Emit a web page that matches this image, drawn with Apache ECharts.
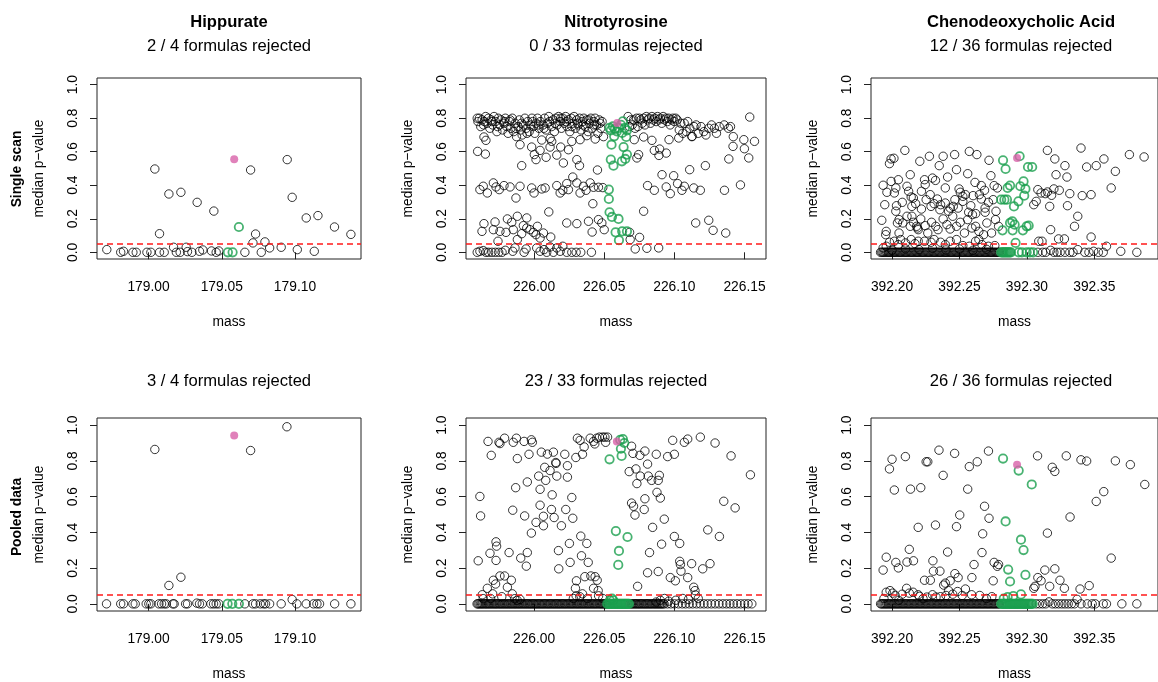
<!DOCTYPE html>
<html lang="en">
<head>
<meta charset="UTF-8">
<title>median p-value by mass</title>
<script src="https://cdn.jsdelivr.net/npm/echarts@6/dist/echarts.min.js"></script>
<style>
  * { margin: 0; padding: 0 }
  html, body { height: 100%; background: #fff; }
</style>
</head>
<body>
<div id="main" style="width:1158px;height:682px"></div>
<script>
// ---- data: [mass, median p-value] ----
const hipScanBlack = [[178.9715,0.016],[178.9810,0],[178.9829,0.006],[178.9893,0],[178.9916,0],[178.9989,0],[179.0016,0],[179.0043,0.497],[179.0075,0.111],[179.0075,0],[179.0107,0],[179.0139,0.348],[179.0171,0.03],[179.0190,0],[179.0221,0.358],[179.0216,0],[179.0257,0.03],[179.0266,0.004],[179.0296,0],[179.0332,0.298],[179.0348,0.006],[179.0371,0.014],[179.0430,0.008],[179.0446,0.246],[179.0462,0],[179.0480,0.008],[179.0658,0],[179.0697,0.491],[179.0713,0.056],[179.0731,0.109],[179.0770,0],[179.0795,0.062],[179.0827,0.026],[179.0906,0.030],[179.0947,0.553],[179.0981,0.328],[179.1016,0.016],[179.1077,0.205],[179.1132,0.006],[179.1157,0.219],[179.1270,0.151],[179.1382,0.107]];
const hipScanGreen = [[179.0542,0],[179.0574,0],[179.0617,0.151]];
const hipScanPink = [[179.0585,0.555]];

const hipPoolBlack = [[178.9713,0],[178.9810,0],[178.9829,0],[178.9893,0],[178.9909,0],[178.9984,0],[179.0002,0],[179.0016,0],[179.0043,0.864],[179.0071,0],[179.0089,0],[179.0107,0],[179.0121,0],[179.0139,0.103],[179.0166,0],[179.0175,0],[179.0221,0.149],[179.0253,0],[179.0266,0],[179.0330,0.004],[179.0348,0],[179.0367,0],[179.0426,0],[179.0444,0],[179.0462,0],[179.0480,0],[179.0658,0],[179.0697,0.858],[179.0713,0],[179.0731,0],[179.0763,0],[179.0786,0],[179.0799,0],[179.0827,0],[179.0906,0],[179.0945,0.991],[179.0981,0.024],[179.1013,0],[179.1077,0],[179.1127,0],[179.1150,0],[179.1168,0],[179.1271,0],[179.1382,0]];
const hipPoolGreen = [[179.0540,0],[179.0572,0],[179.0617,0]];
const hipPoolPink = [[179.0585,0.942]];

const nitroScanBlack = [
  [225.9595,0.80],[225.9610,0.80],[225.9620,0.75],[225.9630,0.79],[225.9645,0.78],[225.9655,0.81],[225.9665,0.77],[225.9675,0.80],[225.9685,0.74],[225.9695,0.79],[225.9705,0.76],[225.9715,0.81],[225.9725,0.78],[225.9735,0.72],[225.9745,0.80],[225.9755,0.76],[225.9765,0.79],[225.9775,0.73],[225.9785,0.77],[225.9795,0.80],[225.9805,0.75],[225.9815,0.71],[225.9825,0.78],[225.9835,0.74],[225.9845,0.80],[225.9855,0.72],[225.9865,0.77],[225.9875,0.69],[225.9885,0.75],[225.9895,0.79],[225.9905,0.73],[225.9915,0.70],[225.9925,0.76],[225.9935,0.80],[225.9945,0.74],[225.9955,0.78],[225.9965,0.72],[225.9975,0.76],[225.9985,0.80],[225.9995,0.75],[226.0005,0.71],[226.0015,0.77],[226.0025,0.80],[226.0035,0.74],[226.0045,0.78],[226.0055,0.67],[226.0065,0.76],[226.0075,0.80],[226.0085,0.73],[226.0095,0.77],[226.0105,0.81],[226.0115,0.68],[226.0125,0.75],[226.0135,0.79],[226.0145,0.72],[226.0155,0.80],[226.0165,0.76],[226.0175,0.81],[226.0185,0.78],[226.0195,0.74],[226.0205,0.80],[226.0215,0.77],[226.0225,0.81],[226.0235,0.75],[226.0245,0.79],[226.0255,0.72],[226.0265,0.80],[226.0275,0.77],[226.0285,0.81],[226.0295,0.74],[226.0305,0.79],[226.0315,0.76],[226.0325,0.80],[226.0335,0.73],[226.0345,0.78],[226.0355,0.80],[226.0365,0.75],[226.0375,0.79],[226.0385,0.72],[226.0395,0.77],[226.0405,0.80],[226.0415,0.74],[226.0425,0.78],[226.0435,0.80],[226.0445,0.76],[226.0455,0.71],[226.0465,0.79],[226.0475,0.74],[226.0485,0.78],[226.0495,0.69],
  [225.9600,0.78],[225.9640,0.76],[225.9700,0.78],[225.9740,0.75],[225.9790,0.78],[225.9830,0.79],[225.9870,0.74],[225.9910,0.77],[225.9950,0.71],[225.9990,0.78],[226.0030,0.76],[226.0070,0.74],[226.0110,0.78],[226.0150,0.77],[226.0190,0.80],[226.0230,0.78],[226.0270,0.75],[226.0310,0.77],[226.0350,0.76],[226.0390,0.79],[226.0430,0.76],[226.0470,0.77],
  [226.0670,0.81],[226.0680,0.75],[226.0690,0.79],[226.0700,0.76],[226.0710,0.79],[226.0720,0.74],[226.0730,0.80],[226.0740,0.75],[226.0750,0.80],[226.0760,0.79],[226.0770,0.77],[226.0780,0.80],[226.0790,0.76],[226.0800,0.81],[226.0810,0.79],[226.0820,0.80],[226.0830,0.77],[226.0840,0.81],[226.0850,0.79],[226.0860,0.80],[226.0870,0.78],[226.0880,0.81],[226.0890,0.79],[226.0900,0.80],[226.0910,0.77],[226.0920,0.81],[226.0930,0.79],[226.0940,0.80],[226.0950,0.78],[226.0960,0.80],[226.0970,0.76],[226.0980,0.79],[226.0990,0.80],[226.1000,0.78],[226.1010,0.80],[226.1020,0.79],[226.1035,0.73],[226.1045,0.77],[226.1060,0.71],[226.1070,0.77],[226.1085,0.72],[226.1095,0.78],[226.1110,0.74],[226.1125,0.69],[226.1140,0.75],[226.1155,0.76],[226.1170,0.71],[226.1190,0.75],[226.1210,0.72],[226.1225,0.70],[226.1245,0.74],[226.1265,0.76],[226.1285,0.74],[226.1300,0.71],[226.1320,0.75],[226.1355,0.76],[226.1385,0.74],[226.1400,0.75],[226.1420,0.69],
  [225.9643,0.688],[225.9657,0.668],[225.9598,0.602],[225.9653,0.586],[225.9900,0.642],[225.9912,0.517],[225.9983,0.628],[226.0002,0.583],[226.0014,0.553],[226.0043,0.608],[226.0086,0.567],[226.0114,0.628],[226.0126,0.662],[226.0162,0.58],[226.0190,0.628],[226.0209,0.533],[226.0245,0.612],[226.0269,0.662],[226.0305,0.553],[226.0324,0.517],[226.0452,0.491],[226.0328,0.672],[226.0376,0.696],[226.0436,0.676],
  [226.0714,0.672],[226.0733,0.563],[226.0745,0.583],[226.0781,0.688],[226.0840,0.668],[226.0857,0.608],[226.0890,0.578],[226.0895,0.616],[226.0942,0.592],[226.0962,0.672],[226.1031,0.682],[226.1126,0.692],[226.1221,0.517],[226.1388,0.557],[226.1418,0.632],[226.1499,0.618],[226.1530,0.563],[226.1571,0.662],[226.1537,0.807],[226.1495,0.672],
  [225.9614,0.374],[225.9638,0.394],[225.9667,0.354],[225.9710,0.414],[225.9729,0.39],[225.9752,0.374],[225.9786,0.398],[225.9829,0.39],[225.9871,0.324],[225.9900,0.394],[225.9983,0.384],[226.0000,0.354],[226.0055,0.378],[226.0079,0.384],[226.0162,0.398],[226.0186,0.354],[226.0205,0.37],[226.0233,0.41],[226.0245,0.374],[226.0276,0.449],[226.0305,0.414],[226.0328,0.354],[226.0352,0.394],[226.0371,0.37],[226.0400,0.414],[226.0424,0.388],[226.0459,0.388],[226.0490,0.386],[226.0419,0.29],
  [226.0809,0.398],[226.0857,0.37],[226.0912,0.463],[226.0942,0.39],[226.0971,0.35],[226.0995,0.457],[226.1023,0.41],[226.1054,0.37],[226.1071,0.394],[226.1109,0.493],[226.1138,0.384],[226.1185,0.37],[226.1357,0.37],[226.1471,0.402],
  [225.9643,0.171],[225.9629,0.125],[225.9722,0.181],[225.9710,0.135],[225.9757,0.125],[225.9743,0.066],[225.9800,0.119],[225.9810,0.199],[225.9841,0.179],[225.9852,0.135],[225.9881,0.215],[225.9881,0.076],[225.9912,0.111],[225.9924,0.159],[225.9948,0.145],[225.9948,0.205],[225.9971,0.135],[225.9995,0.119],[226.0014,0.105],[226.0024,0.155],[226.0043,0.085],[226.0067,0.115],[226.0105,0.241],[226.0119,0.091],[226.0233,0.175],[226.0305,0.171],[226.0388,0.185],[226.0414,0.121],[226.0459,0.195],[226.0500,0.135],[226.0483,0.175],[226.0681,0.119],[226.0685,0.076],[226.0781,0.245],[226.0752,0.089],[226.1152,0.175],[226.1245,0.191],[226.1276,0.131],[226.1366,0.115],
  [225.9595,0],[225.9614,0.006],[225.9638,0.01],[225.9657,0],[225.9676,0],[225.9700,0],[225.9724,0],[225.9748,0],[225.9772,0],[225.9795,0.012],[225.9848,0.006],[225.9864,0.026],[225.9929,0],[225.9943,0.02],[226.0019,0.026],[226.0043,0.006],[226.0071,0.016],[226.0090,0],[226.0114,0.032],[226.0138,0],[226.0162,0.026],[226.0186,0.006],[226.0205,0.036],[226.0233,0],[226.0269,0],[226.0300,0],[226.0333,0],[226.0409,0],[226.0721,0.02],[226.0804,0.024],[226.0888,0.026]
];
const nitroScanGreen = [[226.0538,0.742],[226.0547,0.728],[226.0562,0.751],[226.0576,0.736],[226.0590,0.722],[226.0605,0.742],[226.0619,0.761],[226.0633,0.781],[226.0647,0.742],[226.0662,0.728],[226.0628,0.712],[226.0571,0.692],[226.0657,0.688],[226.0552,0.642],[226.0638,0.628],[226.0662,0.583],[226.0650,0.557],[226.0626,0.543],[226.0547,0.553],[226.0566,0.517],[226.0533,0.374],[226.0533,0.318],[226.0538,0.239],[226.0555,0.211],[226.0602,0.199],[226.0581,0.119],[226.0628,0.125],[226.0662,0.125],[226.0605,0.072]];
const nitroScanPink = [[226.0593,0.771]];

const nitroPoolBlack = [
  [225.9602,0.241],[225.9614,0.601],[225.9619,0.492],[225.9672,0.909],[225.9695,0.831],[225.9686,0.283],[225.9729,0.347],[225.9733,0.323],[225.9729,0.243],[225.9750,0.904],[225.9757,0.897],[225.9790,0.927],[225.9822,0.287],[225.9848,0.524],[225.9852,0.904],[225.9869,0.650],[225.9874,0.927],[225.9881,0.813],[225.9905,0.256],[225.9929,0.909],[225.9933,0.492],[225.9945,0.211],[225.9952,0.287],[225.9952,0.682],[225.9964,0.837],[225.9981,0.918],[225.9988,0.904],[225.9981,0.396],[226.0014,0.456],[226.0033,0.715],[226.0043,0.641],[226.0043,0.552],[226.0052,0.849],[226.0067,0.490],[226.0067,0.437],[226.0076,0.764],[226.0083,0.691],[226.0095,0.838],[226.0114,0.746],[226.0124,0.528],[226.0129,0.610],[226.0138,0.849],[226.0143,0.483],[226.0155,0.791],[226.0157,0.786],[226.0162,0.715],[226.0174,0.298],[226.0176,0.196],[226.0195,0.437],[226.0219,0.837],[226.0226,0.528],[226.0238,0.773],[226.0238,0.709],[226.0252,0.338],[226.0257,0.232],[226.0269,0.595],[226.0276,0.479],[226.0298,0.819],[226.0309,0.927],[226.0328,0.915],[226.0333,0.379],[226.0338,0.269],[226.0345,0.837],[226.0357,0.878],[226.0376,0.338],[226.0386,0.232],[226.0400,0.927],[226.0424,0.909],[226.0433,0.895],[226.0447,0.927],[226.0466,0.933],[226.0488,0.933],[226.0505,0.933],[226.0524,0.933],[226.0510,0.904],
  [226.0678,0.740],[226.0695,0.882],[226.0705,0.842],[226.0695,0.564],[226.0709,0.546],[226.0719,0.497],[226.0726,0.755],[226.0733,0.673],[226.0757,0.715],[226.0754,0.831],[226.0785,0.528],[226.0790,0.588],[226.0790,0.855],[226.0809,0.782],[226.0814,0.715],[226.0823,0.287],[226.0838,0.691],[226.0845,0.428],[226.0871,0.837],[226.0876,0.624],[226.0893,0.719],[226.0885,0.691],[226.0900,0.592],[226.0928,0.474],[226.0952,0.824],[226.0988,0.915],[226.1000,0.837],[226.1000,0.377],[226.1038,0.338],[226.1071,0.904],[226.1095,0.922],[226.1185,0.933],[226.1290,0.900],[226.1404,0.828],[226.1352,0.574],[226.1433,0.537],[226.1542,0.722],[226.1238,0.414],[226.1321,0.377],
  [226.0738,0.098],[226.0809,0.174],[226.0885,0.181],[226.0909,0.334],[226.0971,0.147],[226.1007,0.129],[226.1038,0.238],[226.1043,0.220],[226.1047,0.183],[226.1095,0.147],[226.1123,0.225],[226.1138,0.093],[226.1147,0.074],[226.1202,0.196],[226.1254,0.225],[226.1150,0.050],[226.1170,0.030],[226.1100,0.025],[226.1060,0.030],[226.1010,0.020],[226.0960,0.015],[226.0930,0.030],[226.0900,0.020],[226.0870,0.010],
  [225.9667,0.087],[225.9631,0.051],[225.9638,0.029],[225.9710,0.132],[225.9726,0.111],[225.9757,0.156],[225.9790,0.156],[225.9810,0.093],[225.9838,0.132],[225.9845,0.056],[225.9862,0.029],[225.9705,0.056],[225.9690,0.030],[225.9770,0.040],[225.9880,0.020],[225.9900,0.025],
  [226.0295,0.087],[226.0302,0.129],[226.0326,0.040],[226.0345,0.056],[226.0362,0.152],[226.0405,0.156],[226.0424,0.087],[226.0435,0.152],[226.0450,0.132],[226.0457,0.074],[226.0460,0.045],[226.0490,0.030],[226.0300,0.045],[226.0280,0.030],[226.0380,0.030]
];
const nitroPoolZeroMass = [225.9594,225.9601,225.9609,225.9618,225.9626,225.9633,225.9642,225.9651,225.9659,225.9667,225.9676,225.9684,225.9693,225.9701,225.9710,225.9719,225.9727,225.9735,225.9744,225.9753,225.9761,225.9770,225.9778,225.9787,225.9795,225.9804,225.9813,225.9821,225.9830,225.9838,225.9847,225.9856,225.9864,225.9872,225.9881,225.9890,225.9898,225.9907,225.9915,225.9924,225.9933,225.9941,225.9950,225.9958,225.9967,225.9975,225.9984,225.9993,226.0001,226.0010,226.0018,226.0027,226.0036,226.0044,226.0053,226.0061,226.0070,226.0078,226.0087,226.0096,226.0104,226.0113,226.0121,226.0130,226.0139,226.0147,226.0156,226.0164,226.0173,226.0181,226.0190,226.0199,226.0207,226.0216,226.0224,226.0233,226.0242,226.0250,226.0259,226.0267,226.0276,226.0284,226.0293,226.0302,226.0310,226.0319,226.0327,226.0336,226.0344,226.0353,226.0362,226.0370,226.0379,226.0387,226.0396,226.0405,226.0413,226.0422,226.0430,226.0439,226.0447,226.0456,226.0465,226.0473,226.0482,226.0490,226.0499,226.0507,226.0515,
  226.0684,226.0693,226.0701,226.0710,226.0719,226.0727,226.0736,226.0745,226.0753,226.0762,226.0770,226.0779,226.0788,226.0796,226.0805,226.0813,226.0822,226.0831,226.0839,226.0848,226.0857,226.0865,226.0874,226.0883,226.0891,226.0900,226.0909,226.0918,226.0927,
  226.0950,226.0975,226.1001,226.1029,226.1056,226.1080,226.1106,226.1131,226.1158,226.1184,226.1211,226.1237,226.1263,226.1290,226.1318,226.1345,226.1371,226.1396,226.1421,226.1447,226.1473,226.1500,226.1525,226.1552];
const nitroPoolGreen = [[226.0538,0.809],[226.0614,0.918],[226.0633,0.922],[226.0643,0.900],[226.0619,0.868],[226.0624,0.828],[226.0583,0.407],[226.0605,0.296],[226.0600,0.218],[226.0666,0.374],[226.0540,0.020],[226.0555,0.030],[226.0565,0.020]];
const nitroPoolGreenZeroMass = [226.0521,226.0530,226.0539,226.0547,226.0556,226.0565,226.0573,226.0582,226.0591,226.0599,226.0608,226.0617,226.0625,226.0634,226.0643,226.0651,226.0660,226.0669,226.0677];
const nitroPoolPink = [[226.0590,0.909]];

const chenoScanBlack = [
  [392.1934,0.40],[392.1924,0.191],[392.1946,0.284],[392.1957,0.125],[392.1953,0.105],[392.1962,0.358],[392.1981,0.529],[392.1993,0.557],[392.2014,0.561],[392.1993,0.423],[392.2017,0.354],[392.2028,0.384],[392.2047,0.433],[392.2033,0.278],[392.2040,0.175],[392.2052,0.115],[392.2095,0.608],[392.2111,0.394],[392.2123,0.364],[392.2142,0.33],[392.2135,0.463],[392.2158,0.324],[392.2175,0.29],[392.2147,0.215],[392.2182,0.155],[392.2194,0.135],[392.2206,0.543],[392.2218,0.364],[392.2241,0.433],[392.2246,0.404],[392.2277,0.573],[392.2283,0.344],[392.2289,0.274],[392.2300,0.443],[392.2322,0.429],[392.2336,0.318],[392.2360,0.284],[392.2350,0.517],[392.2379,0.573],[392.2412,0.449],[392.2395,0.384],[392.2431,0.264],[392.2454,0.274],[392.2466,0.314],[392.2464,0.583],[392.2478,0.493],[392.2497,0.378],[392.2506,0.358],[392.2525,0.334],[392.2544,0.344],[392.2561,0.469],[392.2573,0.602],[392.2568,0.239],[392.2596,0.225],[392.2601,0.338],[392.2615,0.417],[392.2629,0.583],[392.2648,0.344],[392.2662,0.398],[392.2686,0.37],[392.2690,0.239],[392.2715,0.298],[392.2719,0.549],[392.2733,0.457],[392.2757,0.398],[392.2771,0.245],[392.2781,0.384],
  [392.2052,0.195],[392.2080,0.175],[392.2111,0.215],[392.2135,0.155],[392.2158,0.179],[392.2189,0.145],[392.2213,0.199],[392.2246,0.159],[392.2265,0.115],[392.2293,0.179],[392.2324,0.155],[392.2341,0.135],[392.2379,0.199],[392.2407,0.165],[392.2431,0.139],[392.2450,0.215],[392.2478,0.155],[392.2506,0.179],[392.2537,0.115],[392.2561,0.195],[392.2592,0.145],[392.2620,0.155],[392.2644,0.125],[392.2679,0.105],[392.2703,0.175],[392.2738,0.115],[392.2767,0.195],[392.2790,0.155],
  [392.2028,0.245],[392.2076,0.298],[392.2147,0.274],[392.2218,0.258],[392.2253,0.314],[392.2312,0.29],[392.2355,0.254],[392.2395,0.294],[392.2419,0.245],[392.2490,0.264],[392.2525,0.304],[392.2584,0.278],[392.2620,0.231],[392.2662,0.318],[392.2690,0.264],[392.2750,0.314],
  [392.3051,0.284],[392.3069,0.304],[392.3081,0.374],[392.3105,0.354],[392.3136,0.35],[392.3152,0.36],[392.3169,0.274],[392.3183,0.34],[392.3200,0.378],[392.3216,0.463],[392.3207,0.557],[392.3235,0.08],[392.3176,0.135],[392.3240,0.37],[392.3282,0.517],[392.3297,0.449],[392.3318,0.35],[392.3301,0.278],[392.3353,0.155],[392.3377,0.215],[392.3410,0.338],[392.3443,0.509],[392.3476,0.344],[392.3476,0.091],[392.3514,0.517],[392.3571,0.557],[392.3625,0.384],[392.3656,0.483],[392.3401,0.622],[392.3152,0.608],[392.3760,0.583],[392.3869,0.569],[392.3088,0.066],[392.3112,0.066],[392.3278,0.08],
  [392.3081,0],[392.3117,0],[392.3140,0],[392.3176,0.012],[392.3200,0],[392.3223,0],[392.3247,0],[392.3282,0],[392.3318,0],[392.3342,0],[392.3377,0.016],[392.3429,0],[392.3460,0],[392.3495,0.006],[392.3530,0],[392.3566,0],[392.3590,0.036],[392.3696,0.006],[392.3815,0],
  [392.1934,0.026],[392.1957,0.036],[392.1981,0.06],[392.2017,0.066],[392.2047,0.046],[392.2064,0.076],[392.2099,0.056],[392.2142,0.076],[392.2170,0.052],[392.2194,0.066],[392.2241,0.066],[392.2289,0.060],[392.2312,0.076],[392.2360,0.060],[392.2395,0.046],[392.2431,0.066],[392.2478,0.076],[392.2525,0.040],[392.2573,0.036],[392.2620,0.066],[392.2644,0.076],[392.2667,0.046],[392.2715,0.036],[392.2762,0.040],[392.2000,0.012],[392.2100,0.020],[392.2200,0.016],[392.2300,0.024],[392.2400,0.014],[392.2500,0.020],[392.2600,0.012],[392.2700,0.018]
];
const chenoZeroMass = [392.1915,392.1924,392.1933,392.1942,392.1951,392.1960,392.1969,392.1978,392.1987,392.1996,392.2005,392.2014,392.2023,392.2032,392.2041,392.2050,392.2059,392.2068,392.2077,392.2086,392.2095,392.2104,392.2113,392.2122,392.2131,392.2140,392.2149,392.2158,392.2167,392.2176,392.2185,392.2194,392.2203,392.2212,392.2221,392.2230,392.2239,392.2248,392.2257,392.2266,392.2275,392.2284,392.2293,392.2302,392.2311,392.2320,392.2329,392.2338,392.2347,392.2356,392.2365,392.2374,392.2383,392.2392,392.2401,392.2410,392.2419,392.2428,392.2437,392.2446,392.2455,392.2464,392.2473,392.2482,392.2491,392.2500,392.2509,392.2518,392.2527,392.2536,392.2545,392.2554,392.2563,392.2572,392.2581,392.2590,392.2599,392.2608,392.2617,392.2626,392.2635,392.2644,392.2653,392.2662,392.2671,392.2680,392.2689,392.2698,392.2707,392.2716,392.2725,392.2734,392.2743,392.2752,392.2761,392.2770,392.2779,392.2788,392.2797];
const chenoScanGreen = [[392.2823,0.549],[392.2842,0.497],[392.2809,0.314],[392.2833,0.314],[392.2852,0.314],[392.2857,0.384],[392.2875,0.398],[392.2875,0.175],[392.2892,0.185],[392.2909,0.165],[392.2819,0.131],[392.2894,0.131],[392.2904,0.274],[392.2937,0.304],[392.2951,0.394],[392.2975,0.423],[392.2980,0.338],[392.2989,0.378],[392.3008,0.509],[392.2946,0.573],[392.2916,0.056],[392.2970,0.131],[392.2998,0.155],[392.3013,0.159],[392.3039,0.509]];
const chenoScanGreenZeroMass = [392.2809,392.2818,392.2827,392.2836,392.2845,392.2854,392.2863,392.2872,392.2881,392.2939,392.2963,392.2998,392.3022,392.3046];
const chenoScanPink = [[392.2927,0.563]];

const chenoPoolBlack = [
  [392.1934,0.189],[392.1957,0.261],[392.1981,0.755],[392.2000,0.809],[392.2017,0.637],[392.2028,0.232],[392.2047,0.201],[392.2099,0.824],[392.2111,0.234],[392.2128,0.305],[392.2159,0.241],[392.2137,0.642],[392.2194,0.428],[392.2213,0.650],[392.2241,0.132],[392.2284,0.132],[392.2253,0.795],[392.2265,0.795],[392.2303,0.241],[392.2307,0.183],[392.2355,0.183],[392.2322,0.441],[392.2348,0.860],[392.2379,0.719],[392.2383,0.105],[392.2395,0.116],[392.2419,0.074],[392.2431,0.129],[392.2412,0.290],[392.2466,0.169],[392.2478,0.432],[392.2490,0.147],[392.2502,0.497],[392.2464,0.842],[392.2544,0.083],[392.2561,0.642],[392.2573,0.768],[392.2592,0.147],[392.2608,0.220],[392.2632,0.795],[392.2667,0.287],[392.2672,0.392],[392.2686,0.546],[392.2715,0.855],[392.2719,0.479],[392.2750,0.129],[392.2757,0.232],[392.2781,0.210],[392.2790,0.220],
  [392.1957,0.065],[392.1985,0.074],[392.2005,0.060],[392.2023,0.047],[392.2075,0.054],[392.2108,0.087],[392.2128,0.060],[392.2156,0.065],[392.2194,0.051],[392.2203,0.042],[392.2230,0.029],[392.2258,0.038],[392.2300,0.051],[392.2326,0.038],[392.2359,0.040],[392.2400,0.047],[392.2450,0.054],[392.2486,0.069],[392.2520,0.047],[392.2590,0.051],[392.2650,0.047],[392.2700,0.030],[392.2740,0.040],[392.1940,0.030],[392.2050,0.020],
  [392.3051,0.087],[392.3060,0.098],[392.3081,0.147],[392.3105,0.129],[392.3133,0.189],[392.3169,0.098],[392.3207,0.196],[392.3245,0.132],[392.3278,0.087],[392.3394,0.083],[392.3462,0.102],[392.3079,0.828],[392.3152,0.396],[392.3188,0.764],[392.3207,0.741],[392.3292,0.828],[392.3320,0.486],[392.3401,0.806],[392.3443,0.799],[392.3514,0.573],[392.3570,0.628],[392.3625,0.256],[392.3656,0.800],[392.3767,0.779],[392.3874,0.668],
  [392.3069,0],[392.3093,0],[392.3117,0],[392.3140,0],[392.3164,0.011],[392.3188,0],[392.3211,0],[392.3235,0],[392.3259,0],[392.3282,0],[392.3306,0],[392.3330,0],[392.3353,0],[392.3372,0.025],[392.3401,0],[392.3448,0],[392.3484,0],[392.3507,0],[392.3566,0],[392.3590,0],[392.3704,0],[392.3815,0]
];
const chenoPoolGreen = [[392.2823,0.813],[392.2842,0.461],[392.2861,0.192],[392.2875,0.125],[392.2939,0.746],[392.2956,0.359],[392.2975,0.301],[392.2989,0.162],[392.3036,0.668],[392.2828,0.029],[392.2857,0.038],[392.2899,0.044],[392.2956,0.053]];
const chenoPoolGreenZeroMass = [392.2809,392.2818,392.2827,392.2836,392.2845,392.2854,392.2863,392.2872,392.2881,392.2890,392.2899,392.2908,392.2917,392.2926,392.2935,392.2944,392.2953,392.2962,392.2971,392.2980,392.2989,392.2998,392.3007,392.3016,392.3025,392.3034,392.3043];
const chenoPoolPink = [[392.2927,0.779]];

const compounds = ['Hippurate', 'Nitrotyrosine', 'Chenodeoxycholic Acid'];
const scanRejected = ['2 / 4 formulas rejected', '0 / 33 formulas rejected', '12 / 36 formulas rejected'];
const poolRejected = ['3 / 4 formulas rejected', '23 / 33 formulas rejected', '26 / 36 formulas rejected'];
const rowLabels = ['Single scan', 'Pooled data'];
const massTicks = [[179.00, 179.05, 179.10], [226.00, 226.05, 226.10, 226.15], [392.20, 392.25, 392.30, 392.35]];
const massRange = [[178.9648, 179.1451], [225.9515, 226.1653], [392.1844, 392.3972]];
const pTicks = [0, 0.2, 0.4, 0.6, 0.8, 1.0];
const cutoff = 0.05;

const atZero = ms => ms.map(m => [m, 0]);

// panel data, row-major
const panelData = [
  [hipScanBlack, hipScanGreen, hipScanPink],
  [nitroScanBlack, nitroScanGreen, nitroScanPink],
  [chenoScanBlack.concat(atZero(chenoZeroMass)), chenoScanGreen.concat(atZero(chenoScanGreenZeroMass)), chenoScanPink],
  [hipPoolBlack, hipPoolGreen, hipPoolPink],
  [nitroPoolBlack.concat(atZero(nitroPoolZeroMass)), nitroPoolGreen.concat(atZero(nitroPoolGreenZeroMass)), nitroPoolPink],
  [chenoPoolBlack.concat(atZero(chenoZeroMass)), chenoPoolGreen.concat(atZero(chenoPoolGreenZeroMass)), chenoPoolPink]
];

// ---- layout ----
const FONT = '"Liberation Sans", Arial, Helvetica, sans-serif';
const cols = [{ left: 97, width: 264 }, { left: 466, width: 300 }, { left: 871, width: 300 }];
const rows = [{ top: 78, height: 181 }, { top: 418, height: 198 }];
const GREEN = '#1a9f4e';
const PINK = '#d862a9';

const grids = [], xAxes = [], yAxes = [], series = [];
rows.forEach((r, ri) => {
  cols.forEach((c, ci) => {
    const i = ri * 3 + ci;
    grids.push({ left: c.left, top: r.top, width: c.width, height: r.height, show: true, borderColor: '#222', borderWidth: 1, backgroundColor: 'transparent' });
    xAxes.push({
      gridIndex: i, type: 'value', min: massRange[ci][0], max: massRange[ci][1],
      splitLine: { show: false }, axisLine: { show: false },
      axisTick: { show: true, length: 7, lineStyle: { color: '#222' }, customValues: massTicks[ci] },
      axisLabel: { customValues: massTicks[ci], formatter: v => v.toFixed(2), margin: 21, color: '#000', fontSize: 13.8, fontFamily: FONT },
      name: 'mass', nameLocation: 'middle', nameGap: 56,
      nameTextStyle: { color: '#000', fontSize: 13.8, fontFamily: FONT }
    });
    yAxes.push({
      gridIndex: i, type: 'value', min: -0.04, max: 1.04,
      splitLine: { show: false }, axisLine: { show: false },
      axisTick: { show: true, length: 7, lineStyle: { color: '#222' }, customValues: pTicks },
      axisLabel: { customValues: pTicks, formatter: v => v.toFixed(1), rotate: 90, margin: 17, color: '#000', fontSize: 13.8, fontFamily: FONT },
      name: 'median p\u2212value', nameLocation: 'middle', nameGap: 51, nameRotate: 90,
      nameTextStyle: { color: '#000', fontSize: 13.8, fontFamily: FONT }
    });
    const [black, green, pink] = panelData[i];
    series.push({
      type: 'scatter', xAxisIndex: i, yAxisIndex: i, data: black, symbol: 'circle', symbolSize: 8.4,
      itemStyle: { color: 'rgba(0,0,0,0)', borderColor: '#000', borderWidth: 1 },
      markLine: { silent: true, symbol: 'none', label: { show: false },
        lineStyle: { color: '#ff1a1a', type: [6, 4], width: 1.6 }, data: [{ yAxis: cutoff }] }
    });
    series.push({
      type: 'scatter', xAxisIndex: i, yAxisIndex: i, data: green, symbol: 'circle', symbolSize: 8.4,
      itemStyle: { color: 'rgba(0,0,0,0)', borderColor: GREEN, borderWidth: 1.8 }
    });
    series.push({
      type: 'scatter', xAxisIndex: i, yAxisIndex: i, data: pink, symbol: 'circle', symbolSize: 8,
      itemStyle: { color: PINK }
    });
  });
});

// ---- free text ----
const txt = (x, y, text, opts) => ({
  type: 'text', x: x, y: y, rotation: (opts && opts.rot) || 0, silent: true,
  style: { text: text, fill: '#000', font: (opts && opts.font) || ('13.8px ' + FONT), align: 'center', verticalAlign: 'middle', textAlign: 'center', textVerticalAlign: 'middle' }
});
const graphics = [];
cols.forEach((c, ci) => {
  const cx = c.left + c.width / 2;
  graphics.push(txt(cx, 22, compounds[ci], { font: 'bold 16.6px ' + FONT }));
  graphics.push(txt(cx, 46, scanRejected[ci], { font: '16.6px ' + FONT }));
  graphics.push(txt(cx, 381, poolRejected[ci], { font: '16.6px ' + FONT }));
});
graphics.push(txt(17, 169, rowLabels[0], { font: 'bold 13.8px ' + FONT, rot: Math.PI / 2 }));
graphics.push(txt(17, 517, rowLabels[1], { font: 'bold 13.8px ' + FONT, rot: Math.PI / 2 }));

const chart = echarts.init(document.getElementById('main'));
chart.setOption({
  animation: false,
  backgroundColor: '#fff',
  grid: grids,
  xAxis: xAxes,
  yAxis: yAxes,
  series: series,
  graphic: graphics
});
</script>
</body>
</html>
